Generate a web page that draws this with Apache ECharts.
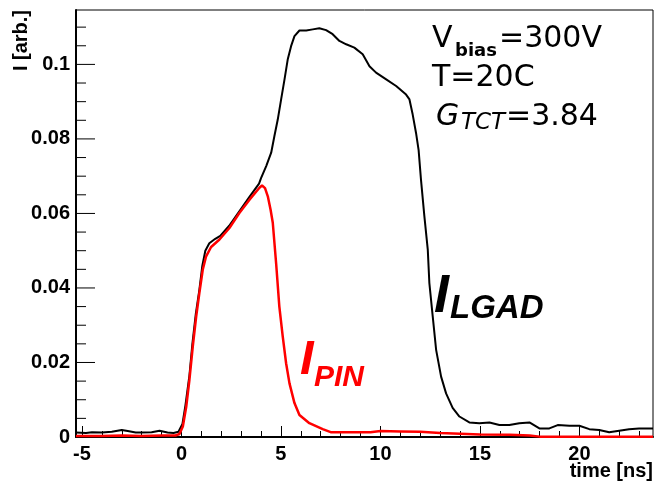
<!DOCTYPE html>
<html>
<head>
<meta charset="utf-8">
<script src="https://cdn.jsdelivr.net/npm/echarts@6/dist/echarts.min.js"></script>
<style>
html,body{margin:0;padding:0;background:#fff;}
#c{width:654px;height:482px;}
</style>
</head>
<body>
<div id="c"></div>
<script>
// LGAD current (black)
const lgadT = [-5.3,-4.8,-4.5,-4.0,-3.5,-3.0,-2.7,-2.3,-2.0,-1.5,-1.1,-0.7,-0.4,-0.15,0.05,0.2,0.4,0.55,0.72,0.9,1.05,1.2,1.4,1.7,1.95,2.4,2.9,3.4,3.9,4.0,4.26,4.51,4.67,4.84,5.01,5.18,5.34,5.51,5.68,5.93,6.27,6.6,6.93,7.27,7.6,7.94,8.28,8.69,9.11,9.45,9.78,10.29,10.79,11.29,11.46,11.62,11.79,11.92,12.04,12.21,12.38,12.46,12.63,12.8,13.05,13.3,13.63,13.97,14.47,14.97,15.48,15.98,16.48,16.98,17.49,17.99,18.49,18.91,19.5,20.0,20.5,21.0,21.5,22.0,22.5,23.0,23.7];
const lgadV = [0.0012,0.0011,0.0013,0.0012,0.0014,0.0019,0.0016,0.0012,0.0012,0.0013,0.0017,0.0012,0.0011,0.0014,0.0035,0.0085,0.0165,0.0250,0.0330,0.0395,0.0460,0.0500,0.0520,0.0532,0.0540,0.0567,0.0605,0.0643,0.0680,0.0695,0.0727,0.0763,0.0807,0.0852,0.0906,0.0960,0.1013,0.1049,0.1076,0.1091,0.1091,0.1094,0.1097,0.1092,0.1081,0.1063,0.1054,0.1045,0.1027,0.0995,0.0978,0.0960,0.0942,0.0919,0.0906,0.0866,0.0816,0.0770,0.0690,0.0592,0.0503,0.0413,0.0323,0.0234,0.0162,0.0117,0.0078,0.0055,0.0039,0.0037,0.0039,0.0032,0.0032,0.0037,0.0039,0.0023,0.0023,0.0032,0.0030,0.0030,0.0021,0.0019,0.0013,0.0017,0.0021,0.0023,0.0023];
// PIN current (red)
const pinT = [-5.3,-4.0,-3.0,-2.0,-1.0,-0.3,-0.1,0.07,0.24,0.40,0.57,0.74,0.90,1.07,1.24,1.49,1.91,2.41,2.91,3.42,3.92,4.05,4.2,4.34,4.48,4.59,4.76,4.92,5.09,5.26,5.43,5.68,5.93,6.43,7.1,7.5,8.5,9.5,10.0,11.0,12.0,13.0,14.0,15.0,16.5,17.5,18.0,20.0,23.7];
const pinV = [0.0003,0.0003,0.0004,0.0003,0.0004,0.0004,0.0008,0.0028,0.0081,0.0153,0.0243,0.0323,0.0386,0.0449,0.0485,0.0510,0.0530,0.0561,0.0601,0.0637,0.0669,0.0675,0.0668,0.0646,0.0610,0.0575,0.0465,0.0350,0.0270,0.0198,0.0144,0.0091,0.0059,0.0037,0.0021,0.0013,0.0013,0.0013,0.0016,0.0015,0.0014,0.0011,0.0009,0.0007,0.0006,0.0004,0.0001,0.0001,0.0001];
// ticks and tick labels
const xMajor = [-5,0,5,10,15,20];
const yMajor = [0.02,0.04,0.06,0.08,0.1];
const yMinor = [0.005,0.01,0.015,0.025,0.03,0.035,0.045,0.05,0.055,0.065,0.07,0.075,0.085,0.09,0.095,0.105,0.11];
const yLabelValues = [0,0.02,0.04,0.06,0.08,0.1];
const yLabels = ['0','0.02','0.04','0.06','0.08','0.1'];

const X_MIN = -5.3, X_MAX = 23.7, Y_MIN = 0, Y_MAX = 0.1146;
const pairs = (t, v) => t.map((x, i) => [x, v[i]]);
const lab = {fontSize:20, fontWeight:'bold', color:'#000', fontFamily:'Liberation Sans'};
// plot rectangle in pixels
const PL = 76, PR = 653, PT = 10, PB = 437, W = 654, H = 482;
const PX_PER_NS = (PR - PL) / (X_MAX - X_MIN);
const xPx = v => PL + (v - X_MIN) * PX_PER_NS;
// helper grids whose ranges start at multiples of the tick interval (x ticks)
function xTickGrid(min, max) { return {show:false, left:xPx(min), right:W - xPx(max), top:PT, bottom:H - PB}; }
const hiddenYAxis = (gi) => ({type:'value', gridIndex:gi, min:0, max:1, show:false});
// y ticks: short horizontal segments from the left frame edge, drawn as a broken line on the main axes
function yTickSeries(vals, lenPx) {
  const dx = lenPx / PX_PER_NS;
  const data = [];
  vals.forEach(v => { data.push([X_MIN, v]); data.push([X_MIN + dx, v]); data.push([X_MIN, '-']); });
  return {type:'line', xAxisIndex:0, yAxisIndex:0, data, showSymbol:false, symbol:'none',
    connectNulls:false, silent:true, z:5, clip:false,
    lineStyle:{color:'#000', width:1}, itemStyle:{color:'#000'}};
}

const chart = echarts.init(document.getElementById('c'), null, {renderer:'canvas'});
chart.setOption({
  animation:false,
  backgroundColor:'#fff',
  grid:[
    {show:true, borderColor:'#000', borderWidth:1, backgroundColor:'transparent', left:PL, right:W-PR, top:PT, bottom:H-PB},
    xTickGrid(-5, 23),
    xTickGrid(-5, 20)
  ],
  xAxis:[
    {type:'value', gridIndex:0, min:X_MIN, max:X_MAX,
     axisLine:{show:true, onZero:false, lineStyle:{color:'#000', width:2}},
     axisTick:{show:false},
     axisLabel:Object.assign({customValues:xMajor, margin:7}, lab),
     splitLine:{show:false}},
    {type:'value', gridIndex:1, min:-5, max:23, interval:1,
     axisLine:{show:false}, axisTick:{show:true, inside:true, length:6, lineStyle:{color:'#000', width:1}},
     axisLabel:{show:false}, splitLine:{show:false}},
    {type:'value', gridIndex:2, min:-5, max:20, interval:5,
     axisLine:{show:false}, axisTick:{show:true, inside:true, length:11, lineStyle:{color:'#000', width:1}},
     axisLabel:{show:false}, splitLine:{show:false}}
  ],
  yAxis:[
    {type:'value', gridIndex:0, min:Y_MIN, max:Y_MAX,
     axisLine:{show:true, onZero:false, lineStyle:{color:'#000', width:2}},
     axisTick:{show:false},
     axisLabel:Object.assign({customValues:yLabelValues, margin:6,
        formatter:(v)=>{const i = yLabelValues.findIndex(m=>Math.abs(m-v)<1e-9); return i>=0?yLabels[i]:'';}}, lab),
     splitLine:{show:false}},
    hiddenYAxis(1),
    hiddenYAxis(2)
  ],
  series:[
    yTickSeries(yMinor, 10),
    yTickSeries(yMajor, 19),
    {type:'line', xAxisIndex:0, yAxisIndex:0, data:pairs(lgadT, lgadV), showSymbol:false, symbol:'none',
     lineStyle:{color:'#000', width:2}, itemStyle:{color:'#000'}, z:3},
    {type:'line', xAxisIndex:0, yAxisIndex:0, data:pairs(pinT, pinV), showSymbol:false, symbol:'none',
     lineStyle:{color:'#ff0000', width:2.5}, itemStyle:{color:'#ff0000'}, z:4}
  ],
  graphic:[
    {type:'text', x:21, y:10, rotation:Math.PI/2, style:{text:'I [arb.]', fill:'#000', font:'bold 20px "Liberation Sans"', align:'right', verticalAlign:'middle'}},
    {type:'text', x:653, y:471, style:{text:'time [ns]', fill:'#000', font:'bold 20px "Liberation Sans"', align:'right', verticalAlign:'middle'}},
    {type:'text', x:432, y:39, style:{text:'V', fill:'#000', font:'30px "DejaVu Sans"', align:'left', verticalAlign:'middle'}},
    {type:'text', x:455, y:51, style:{text:'bias', fill:'#000', font:'bold 18px "DejaVu Sans"', align:'left', verticalAlign:'middle'}},
    {type:'text', x:499, y:39, style:{text:'=300V', fill:'#000', font:'30px "DejaVu Sans"', align:'left', verticalAlign:'middle'}},
    {type:'text', x:432, y:78, style:{text:'T=20C', fill:'#000', font:'30px "DejaVu Sans"', align:'left', verticalAlign:'middle'}},
    {type:'text', x:436, y:117, style:{text:'G', fill:'#000', font:'italic 30px "DejaVu Sans"', align:'left', verticalAlign:'middle'}},
    {type:'text', x:461, y:123, style:{text:'TCT', fill:'#000', font:'italic 23px "DejaVu Sans"', align:'left', verticalAlign:'middle'}},
    {type:'text', x:506, y:117, style:{text:'=3.84', fill:'#000', font:'30px "DejaVu Sans"', align:'left', verticalAlign:'middle'}},
    {type:'text', x:434, y:297, style:{text:'I', fill:'#000', font:'italic bold 54px "Liberation Sans"', align:'left', verticalAlign:'middle'}},
    {type:'text', x:450, y:309, style:{text:'LGAD', fill:'#000', font:'italic bold 33px "Liberation Sans"', align:'left', verticalAlign:'middle'}},
    {type:'text', x:300, y:360, style:{text:'I', fill:'#ff0000', font:'italic bold 49px "Liberation Sans"', align:'left', verticalAlign:'middle'}},
    {type:'text', x:314, y:378, style:{text:'PIN', fill:'#ff0000', font:'italic bold 30px "Liberation Sans"', align:'left', verticalAlign:'middle'}}
  ]
});
</script>
</body>
</html>
